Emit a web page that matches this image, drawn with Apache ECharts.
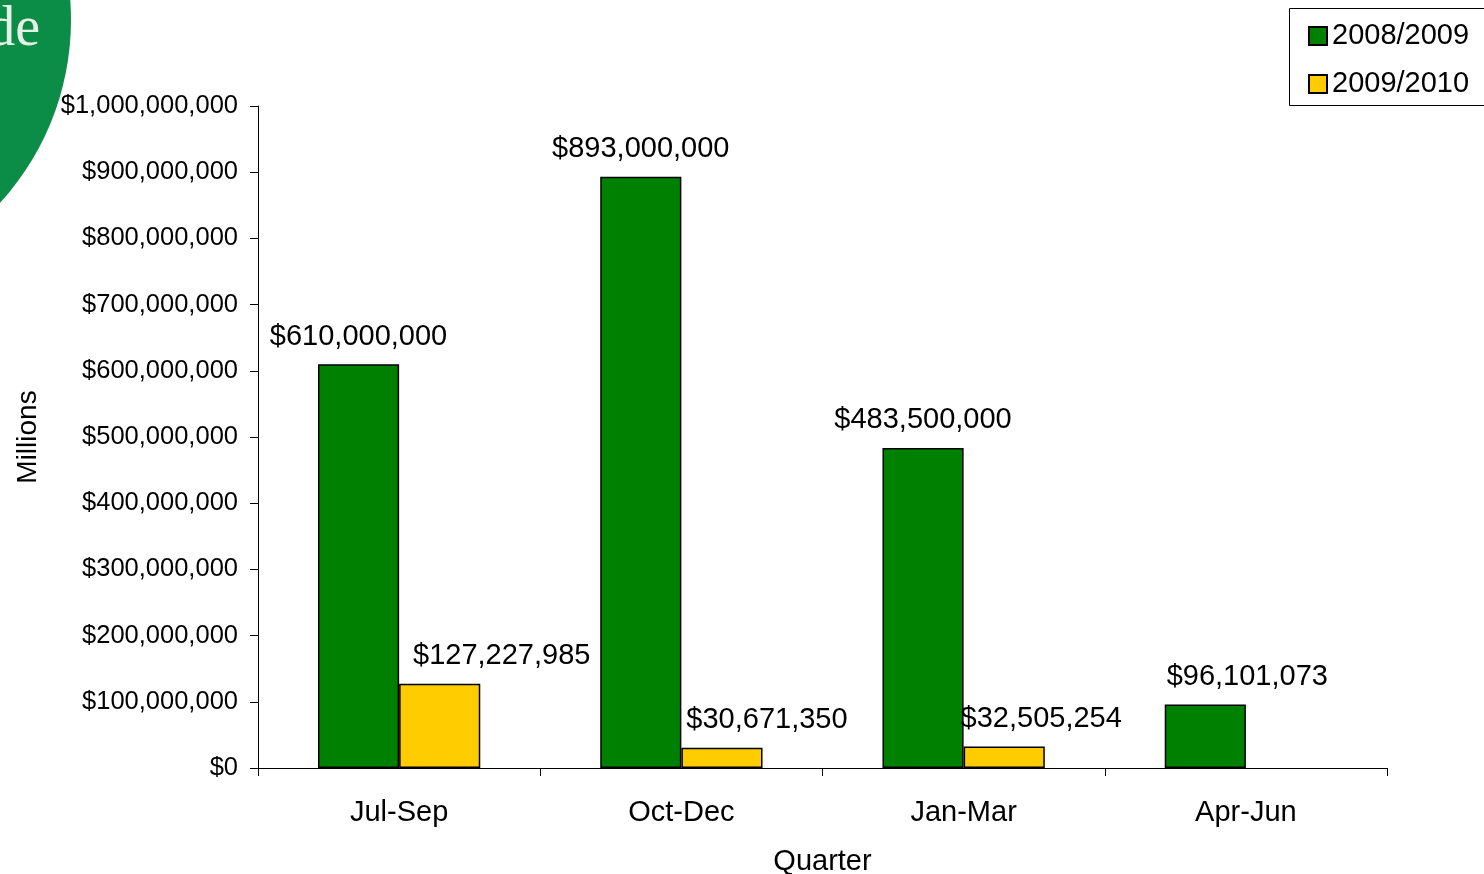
<!DOCTYPE html>
<html>
<head>
<meta charset="utf-8">
<script src="https://cdn.jsdelivr.net/npm/echarts@6/dist/echarts.min.js"></script>
<style>
html,body{margin:0;padding:0;background:#fff;}
#chart{width:1484px;height:874px;}
</style>
</head>
<body>
<div id="chart"></div>
<script>
const categories = ['Jul-Sep', 'Oct-Dec', 'Jan-Mar', 'Apr-Jun'];
const seriesNames = ['2008/2009', '2009/2010'];
const values2008 = [610000000, 893000000, 483500000, 96101073];
const values2009 = [127227985, 30671350, 32505254, null];
const labelOffsets2008 = [0, 0, 0, 42];
const labelOffsets2009 = [62, 45, 37, 0];
const yTicks = [0, 100000000, 200000000, 300000000, 400000000, 500000000, 600000000, 700000000, 800000000, 900000000, 1000000000];

const fmt = v => '$' + Number(v).toLocaleString('en-US');
const FONT = '"Liberation Sans", Arial, sans-serif';

const chart = echarts.init(document.getElementById('chart'), null, {renderer: 'canvas'});

function mkData(vals, offs) {
  return vals.map((v, i) => ({
    value: v,
    label: {offset: [offs[i], 0]}
  }));
}

chart.setOption({
  backgroundColor: '#ffffff',
  animation: false,
  textStyle: {fontFamily: FONT},
  grid: {left: 258, right: 97, top: 106, bottom: 106, containLabel: false, outerBoundsMode: 'none'},
  graphic: [
    {type: 'circle', shape: {cx: -200, cy: 20, r: 271}, style: {fill: '#0b8d48'}, z: -10},
    {type: 'text', style: {text: 'de', x: 40, y: 58, textAlign: 'right', textVerticalAlign: 'bottom',
      font: '300 56px "Liberation Serif", "DejaVu Serif", serif', fill: '#e4f2e6'}, z: -9},
    {type: 'rect', shape: {x: 1289.5, y: 8.5, width: 210, height: 97}, style: {fill: '#ffffff', stroke: '#000', lineWidth: 1}, z: 5}
  ],
  legend: {
    orient: 'vertical',
    left: 1303,
    top: 16,
    z: 10,
    itemWidth: 18,
    itemHeight: 18,
    itemGap: 18,
    icon: 'rect',
    textStyle: {fontFamily: FONT, fontSize: 29, color: '#000', lineHeight: 30},
    data: seriesNames
  },
  xAxis: {
    type: 'category',
    data: categories,
    boundaryGap: true,
    name: 'Quarter',
    nameLocation: 'middle',
    nameGap: 79,
    nameTextStyle: {fontFamily: FONT, fontSize: 29, color: '#000'},
    axisLine: {lineStyle: {color: '#000', width: 1}},
    axisTick: {show: true, length: 8, alignWithLabel: false, lineStyle: {color: '#000'}},
    axisLabel: {fontFamily: FONT, fontSize: 29, color: '#000', margin: 30},
    splitLine: {show: false}
  },
  yAxis: {
    type: 'value',
    min: 0,
    max: 1000000000,
    interval: 100000000,
    name: 'Millions',
    nameLocation: 'middle',
    nameRotate: 90,
    nameGap: 216,
    nameTextStyle: {fontFamily: FONT, fontSize: 28, color: '#000'},
    axisLine: {show: true, lineStyle: {color: '#000', width: 1}},
    axisTick: {show: true, length: 8, lineStyle: {color: '#000'}},
    axisLabel: {fontFamily: FONT, fontSize: 25.5, color: '#000', margin: 20,
      formatter: v => yTicks.includes(v) ? fmt(v) : ''},
    splitLine: {show: false}
  },
  series: [
    {
      name: seriesNames[0],
      type: 'bar',
      data: mkData(values2008, labelOffsets2008),
      barGap: '0%',
      barCategoryGap: '42.5%',
      itemStyle: {color: '#008000', borderColor: '#000', borderWidth: 1.5},
      label: {show: true, position: 'top', distance: 13, fontFamily: FONT, fontSize: 29, color: '#000', formatter: p => fmt(p.value)}
    },
    {
      name: seriesNames[1],
      type: 'bar',
      data: mkData(values2009, labelOffsets2009),
      itemStyle: {color: '#FFCC00', borderColor: '#000', borderWidth: 1.5},
      label: {show: true, position: 'top', distance: 13, fontFamily: FONT, fontSize: 29, color: '#000', formatter: p => p.value == null ? '' : fmt(p.value)}
    }
  ]
});
</script>
</body>
</html>
